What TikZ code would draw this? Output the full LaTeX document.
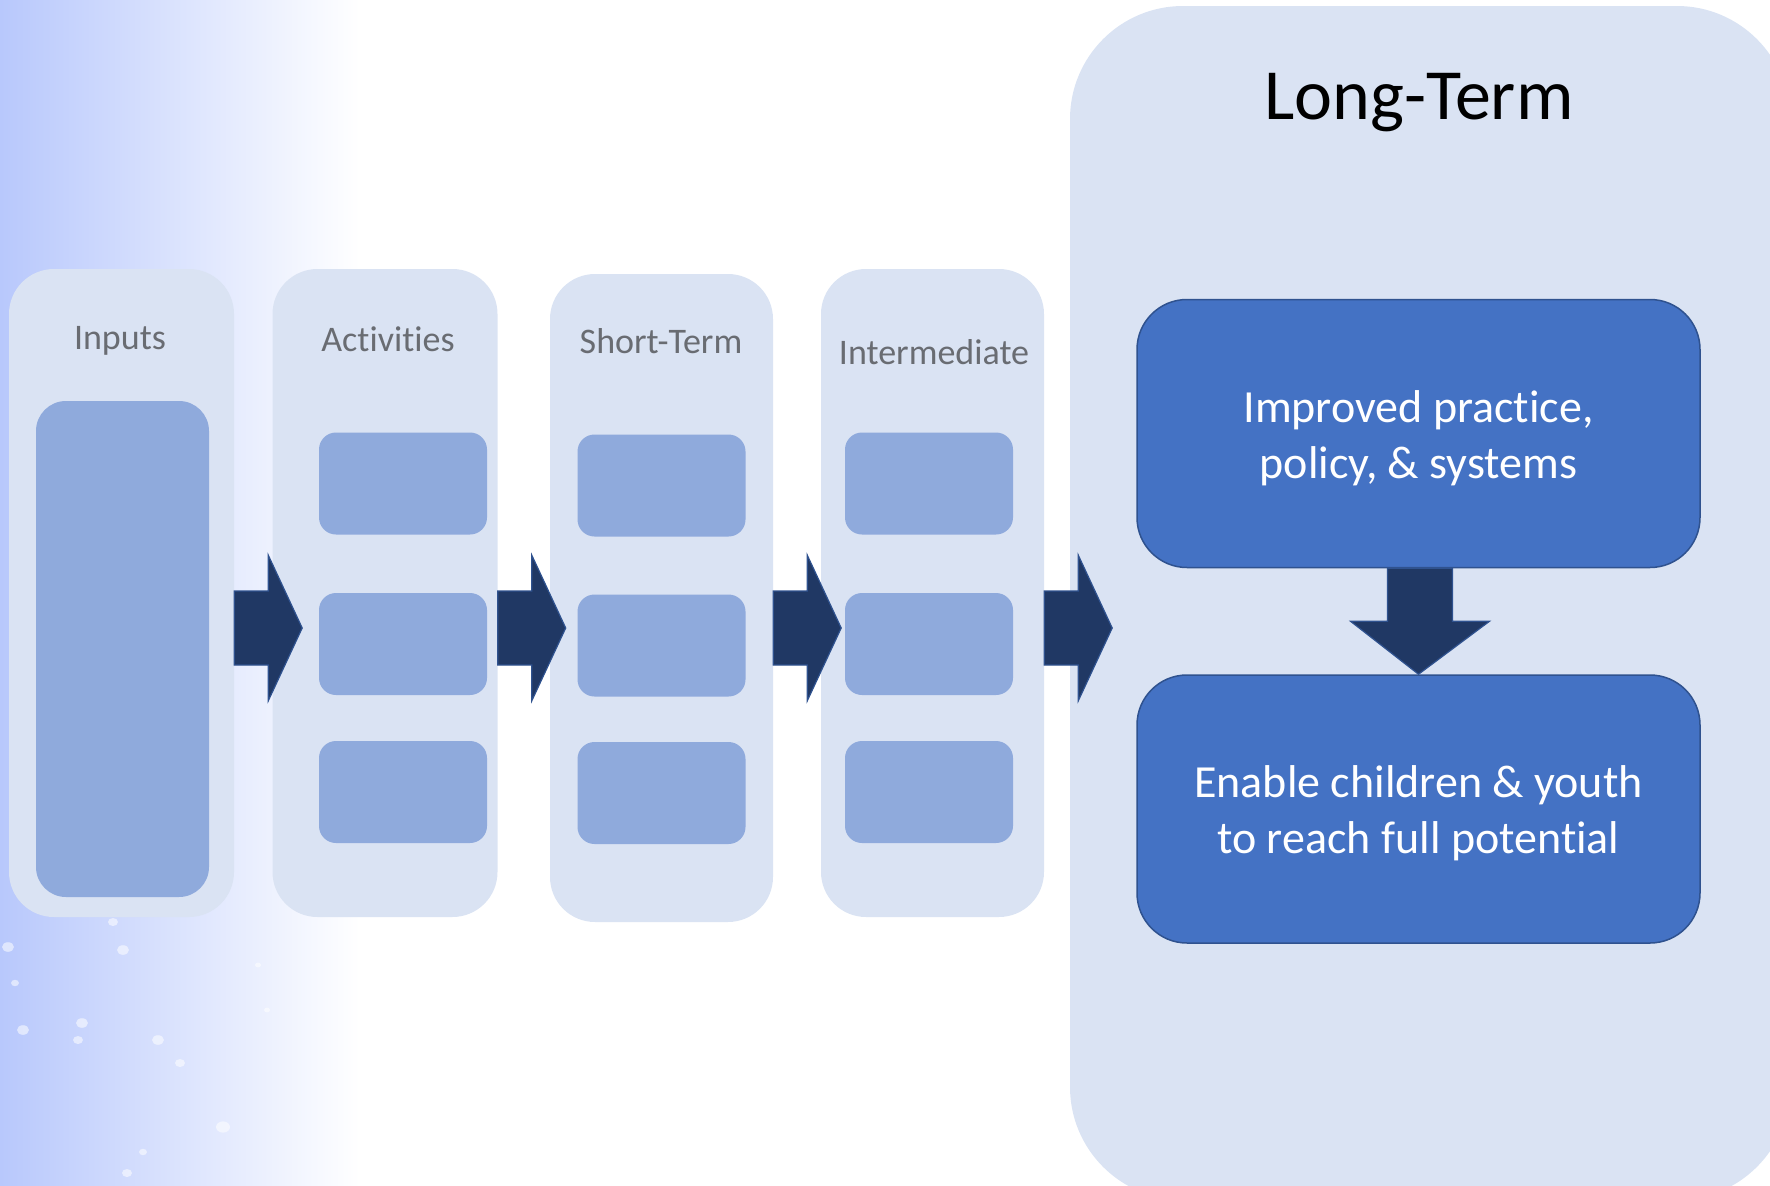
\documentclass[tikz,border=0pt]{standalone}
\usepackage{fontspec}
\setmainfont[Ligatures=NoCommon]{Carlito}
\usepackage{xcolor}
\usepackage{tikz}
\usetikzlibrary{calc,backgrounds}
\definecolor{colfill}{HTML}{DAE3F3}
\definecolor{itemfill}{HTML}{8FAADC}
\definecolor{goalfill}{HTML}{4472C4}
\definecolor{goalline}{HTML}{2F528F}
\definecolor{arrowfill}{HTML}{203864}
\definecolor{headgray}{RGB}{105,108,114}
\definecolor{bgblue}{RGB}{184,200,252}
\tikzstyle{centered} = [align=center, text centered]
\tikzstyle{colhead} = [centered, text=headgray, font=\fontsize{36}{40}\selectfont]
\tikzset{
  % arrow styles
  stagearrow/.style={fill=arrowfill, draw=goalline, line width=1.2pt, line join=miter},
  % node styles
  column/.style={rectangle, fill=colfill, rounded corners=45pt, inner sep=0pt},
  item/.style={rectangle, fill=itemfill, rounded corners=17pt, minimum width=168pt, minimum height=102pt, inner sep=0pt},
  goal/.style={rectangle, fill=goalfill, draw=goalline, line width=1.5pt, rounded corners=50pt,
    minimum width=563pt, minimum height=268pt},
  goaltext/.style={centered, text=white, font=\fontsize{46}{56}\selectfont},
  speck/.style={fill=white, opacity=0.55},
}
\newcommand{\flowarrow}[1]{%
  \filldraw[stagearrow] (#1.east |- flow) ++(0,-37) -- ++(34,0) -- ++(0,-36) -- ++(34,73)
    -- ++(-34,73) -- ++(0,-36) -- ++(-34,0) -- cycle;}

\begin{document}
\begin{tikzpicture}[x=1pt,y=-1pt]
        \useasboundingbox (0,0) rectangle (1770,1186);
        \clip (0,0) rectangle (1770,1186);
        % background
        \shade[left color=bgblue, right color=white] (0,0) rectangle (360,1186);
        \foreach \sx/\sy/\sr in {113/922/5, 8/947/6, 123/950/6, 15/983/4, 23/1030/6, 82/1023/6, 78/1040/5,
            158/1040/6, 180/1063/5, 223/1127/7, 143/1152/4, 127/1173/5, 258/965/3, 267/1010/3}
            \fill[speck] (\sx,\sy) ellipse ({\sr pt} and {0.8*\sr pt});
        \coordinate (flow) at (0,628);
        % Inputs
        \node(inputs)[column, minimum width=225pt, minimum height=648pt] at (121.5,593){};
        \node(inputsT)[colhead] at (120,341){Inputs};
        \node(inputsB)[item, rounded corners=30pt, minimum width=173pt, minimum height=496pt] at (122.5,649){};
        % Activities
        \node(activities)[column, minimum width=225pt, minimum height=648pt] at (385,593){};
        \node(activitiesT)[colhead] at (388,339){Activities};
        \node(act1)[item] at (403,483.5){};
        \node(act2)[item] at (403,644){};
        \node(act3)[item] at (403,792){};
        % Short-Term
        \node(short)[column, minimum width=223pt, minimum height=648pt] at (661.5,598){};
        \node(shortT)[colhead] at (661,341){Short-Term};
        \node(st1)[item] at (661.5,485.5){};
        \node(st2)[item] at (661.5,645.5){};
        \node(st3)[item] at (661.5,793){};
        % Intermediate
        \node(inter)[column, minimum width=223pt, minimum height=648pt] at (932.5,593){};
        \node(interT)[colhead] at (934,352){Intermediate};
        \node(im1)[item] at (929,483.5){};
        \node(im2)[item] at (929,644){};
        \node(im3)[item] at (929,792){};
        % Long-Term
        \node(long)[column, rounded corners=113pt, minimum width=720pt, minimum height=1194pt] at (1430,603){};
        \node(longT)[centered, font=\fontsize{72}{80}\selectfont] at (1419,103){Long-Term};
        \node(improved)[goal] at (1418.5,433.5){};
        \node(improvedT)[goaltext] at ($(improved.center)+(0,5)$){Improved practice,\\policy, \& systems};
        \node(enable)[goal] at (1418.5,809){};
        \node(enableT)[goaltext] at ($(enable.center)+(0,4)$){Enable children \& youth\\to reach full potential};
        % arrows
        \flowarrow{inputs}
        \flowarrow{activities}
        \flowarrow{short}
        \flowarrow{inter}
        \filldraw[stagearrow] ($(improved.south)+(-31,0)$) -- ++(0,53) -- ++(-37,0) -- (enable.north)
            -- ++(71,-53) -- ++(-37,0) -- ++(0,-53) -- cycle;
    \end{tikzpicture}
\end{document}
